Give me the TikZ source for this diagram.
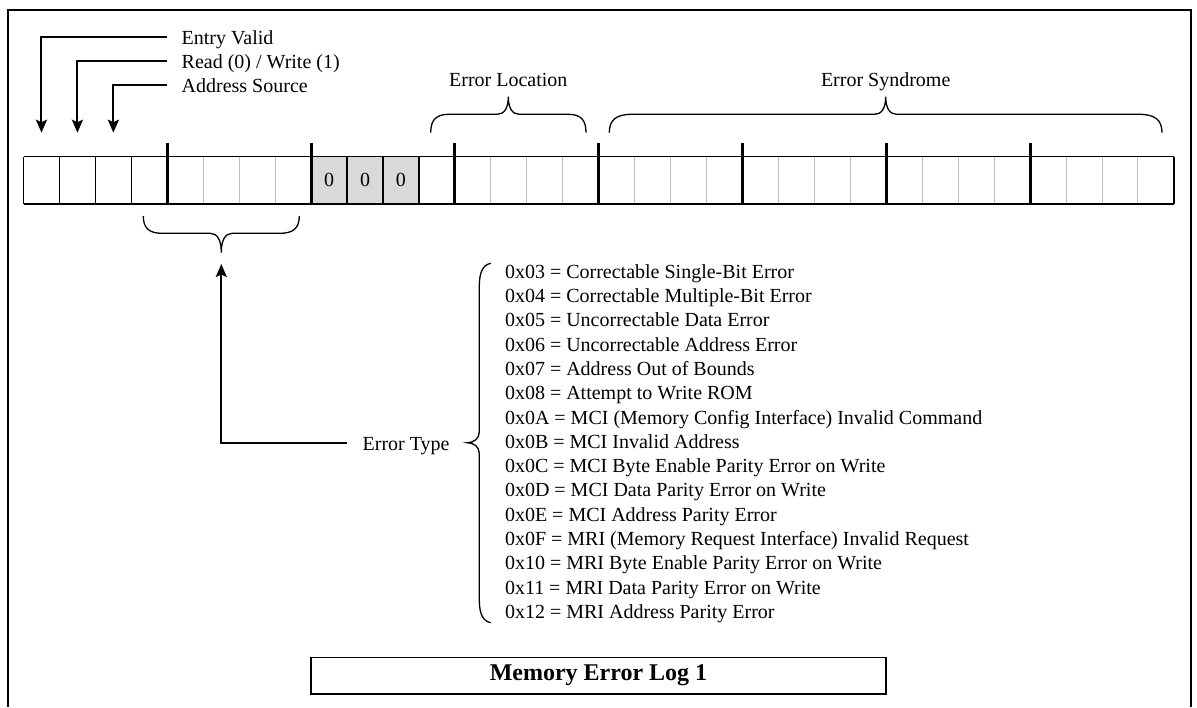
\documentclass[tikz,border=0pt]{standalone}
\usepackage{fontspec}
\setmainfont{Liberation Serif}
\usetikzlibrary{arrows.meta}
\definecolor{cellgray}{RGB}{217,217,217}
\definecolor{divgray}{RGB}{190,190,190}
\tikzset{
  lbl/.style={font=\fontsize{20}{24}\selectfont, inner sep=0pt, outer sep=0pt},
  cellbox/.style={minimum width=35.95pt, minimum height=47.3pt, inner sep=0pt, outer sep=0pt},
  thinblk/.style={line width=1.3pt, black},
  graydiv/.style={line width=1pt, divgray},
  thickdiv/.style={line width=3pt, black},
  pointer/.style={line width=2pt, -{Stealth[length=13pt,width=11pt,inset=2.5pt]}},
  bracepath/.style={line width=1.3pt},
  titlebox/.style={draw, line width=1.5pt, minimum width=575pt, minimum height=36.7pt,
    inner sep=0pt, font=\fontsize{24}{28}\selectfont\bfseries},
  frame/.style={line width=2pt}
}
\begin{document}
\begin{tikzpicture}[x=1pt,y=-1pt]
\useasboundingbox (0,0) rectangle (1197,707);
% outer frame (open at bottom)
\draw[frame] (8,707) -- (8,10) -- (1190.5,10) -- (1190.5,707);

% cells
\foreach \i in {1,...,32}{
  \node[cellbox] (c\i) at ({23.5+35.95*(\i-0.5)}, 180.35) {};
}
\fill[cellgray] (c9.north west) rectangle (c11.south east);
\foreach \i in {9,10,11}{
  \node[lbl] (z\i) at (c\i) {0};
}
% gray dividers
\foreach \i in {5,6,7,13,14,15,17,18,19,21,22,23,25,26,27,29,30,31}{
  \draw[graydiv] (c\i.north east) -- (c\i.south east);
}
% black outline and thin dividers
\draw[thinblk] (c1.north west) -- (c32.north east);
\draw[thinblk] (c1.south west) -- (c32.south east);
\draw[thinblk] (c1.north west) -- (c1.south west);
\draw[thinblk] (c32.north east) -- (c32.south east);
\foreach \i in {1,2,3,9,10,11}{
  \draw[thinblk] (c\i.north east) -- (c\i.south east);
}
% thick group dividers
\foreach \i in {4,8,12,16,20,24,28}{
  \draw[thickdiv] ([yshift=13.4pt]c\i.north east) -- (c\i.south east);
}

% top-left labels and pointers
\node[lbl, anchor=base west] (ev) at (181.7, 44.8) {Entry Valid};
\node[lbl, anchor=base west] (rw) at (181.7, 68.5) {Read (0) / Write (1)};
\node[lbl, anchor=base west] (as) at (181.7, 92.5) {Address Source};
\draw[pointer] ([xshift=-15pt, yshift=7.5pt]ev.base west) -| ([yshift=24pt]c1.north);
\draw[pointer] ([xshift=-15pt, yshift=7.5pt]rw.base west) -| ([yshift=24pt]c2.north);
\draw[pointer] ([xshift=-15pt, yshift=7.5pt]as.base west) -| ([yshift=24pt]c3.north);

% Error Location
\node[lbl, anchor=base] (el) at (508.3, 86.7) {Error Location};
\draw[bracepath] (430.7,132.7) .. controls (430.7,120) and (436,114.3) .. (449,114.3)
  -- (497.3,114.3) .. controls (504.3,114.3) and (508.3,108) .. (508.3,96.7)
  .. controls (508.3,108) and (512.3,114.3) .. (519.3,114.3)
  -- (568,114.3) .. controls (581,114.3) and (586,120) .. (586,132.7);

% Error Syndrome
\node[lbl, anchor=base] (es) at (885.7, 86.7) {Error Syndrome};
\draw[bracepath] (609.3,132.7) .. controls (609.3,120) and (616,114.3) .. (632,114.3)
  -- (874.7,114.3) .. controls (881.7,114.3) and (885.7,108) .. (885.7,96.7)
  .. controls (885.7,108) and (889.7,114.3) .. (896.7,114.3)
  -- (1139,114.3) .. controls (1155,114.3) and (1162,120) .. (1162,132.7);

% Error Type brace below row
\draw[bracepath] (143.3,216) .. controls (143.3,228) and (149,233.3) .. (162,233.3)
  -- (210.3,233.3) .. controls (217.3,233.3) and (221.3,240) .. (221.3,252.7)
  .. controls (221.3,240) and (225.3,233.3) .. (232.3,233.3)
  -- (280.3,233.3) .. controls (293.3,233.3) and (299.3,228) .. (299.3,216);

% Error Type label and pointer
\coordinate (etip) at (221.3,264);
\node[lbl, anchor=base west] (et) at (362.7, 450) {Error Type};
\draw[pointer] ([xshift=-16pt, yshift=7.3pt]et.base west) -| (etip);

% list brace
\draw[bracepath] (490.7,263.3) .. controls (483,265) and (479.3,272) .. (479.3,286)
  -- (479.3,431.7) .. controls (479.3,438.7) and (474,442.7) .. (467,442.7)
  .. controls (474,442.7) and (479.3,446.7) .. (479.3,453.7)
  -- (479.3,600) .. controls (479.3,614) and (483,621) .. (490.7,622.7);

% error code list
\foreach \t [count=\k] in {
  {0x03 = Correctable Single-Bit Error},
  {0x04 = Correctable Multiple-Bit Error},
  {0x05 = Uncorrectable Data Error},
  {0x06 = Uncorrectable Address Error},
  {0x07 = Address Out of Bounds},
  {0x08 = Attempt to Write ROM},
  {0x0A = MCI (Memory Config Interface) Invalid Command},
  {0x0B = MCI Invalid Address},
  {0x0C = MCI Byte Enable Parity Error on Write},
  {0x0D = MCI Data Parity Error on Write},
  {0x0E = MCI Address Parity Error},
  {0x0F = MRI (Memory Request Interface) Invalid Request},
  {0x10 = MRI Byte Enable Parity Error on Write},
  {0x11 = MRI Data Parity Error on Write},
  {0x12 = MRI Address Parity Error}}{
  \node[lbl, anchor=base west] (l\k) at (505, {278.3+24.29*(\k-1)}) {\t};
}

% title box
\node[titlebox] (title) at (598.5, 675.7) {Memory Error Log 1};
\end{tikzpicture}
\end{document}
